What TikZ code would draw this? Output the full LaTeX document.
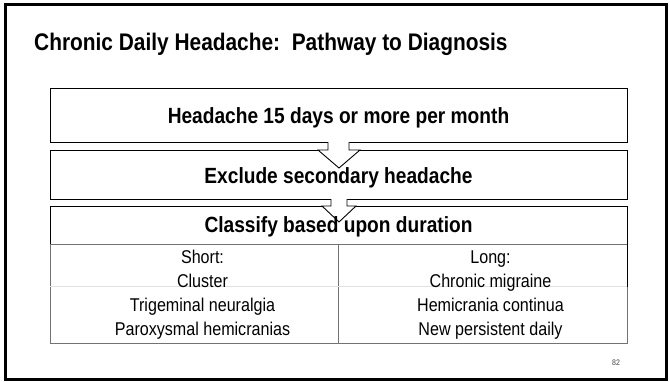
\documentclass[tikz,border=0pt]{standalone}
\usepackage{fontspec}
\setmainfont[FakeStretch=0.87]{Liberation Sans}
\begin{document}
\begin{tikzpicture}[x=1pt,y=-1pt,line join=miter,
  box/.style={draw=black,line width=0.9pt,fill=white,inner sep=0pt,anchor=north west},
  cell/.style={draw=black!55,line width=0.8pt,inner sep=0pt,anchor=north west},
  boxtext/.style={font=\fontsize{22}{26}\selectfont\bfseries,anchor=base,inner sep=0pt},
  celltext/.style={font=\fontsize{18.5}{22}\selectfont,anchor=base,inner sep=0pt},
  arrowline/.style={draw=black,line width=0.9pt},
  arrowfill/.style={fill=white}]
\useasboundingbox (0,0) rectangle (670,381);
\fill[white] (0,0) rectangle (670,381);
\draw[line width=3pt] (5,4) rectangle (666,379);
\node[anchor=base west,inner sep=0pt,font=\fontsize{24}{28}\selectfont\bfseries] (title) at (34,50) {Chronic Daily Headache:\ \ Pathway to Diagnosis};
% boxes
\node[box,minimum width=577pt,minimum height=54pt] (b1) at (50,88) {};
\node[box,minimum width=577pt,minimum height=49pt] (b2) at (50,150) {};
\node[box,minimum width=577pt,minimum height=38pt] (b3) at (50,206) {};
% table
\node[cell,minimum width=288pt,minimum height=99pt] (cl) at (50,244) {};
\node[cell,minimum width=289pt,minimum height=99pt] (cr) at (338,244) {};
\draw[black!12,line width=0.7pt] (cl.west |- 0,286.7) -- (cr.east |- 0,286.7);
\draw[black,line width=0.9pt] (cr.north east) -- ++(0,43);
% arrow 1
\fill[arrowfill] (328,141.2) -- (328,150) -- (318,150) -- (339,168) -- (360,150) -- (349,150) -- (349,141.2) -- cycle;
\draw[arrowline] (328,142) -- (328,150) -- (318,150) -- (339,168) -- (360,150) -- (349,150) -- (349,142);
% arrow 2
\fill[arrowfill] (331,198.2) -- (331,206) -- (322,206) -- (339,222) -- (356,206) -- (347,206) -- (347,198.2) -- cycle;
\draw[arrowline] (331,199) -- (331,206) -- (322,206) -- (339,222) -- (356,206) -- (347,206) -- (347,199);
% texts
\node[boxtext] (t1) at (338.5,123) {Headache 15 days or more per month};
\node[boxtext] (t2) at (338.5,183.5) {Exclude secondary headache};
\node[boxtext] (t3) at (338.5,232) {Classify based upon duration};
\node[celltext] (s0) at (202.5,263) {Short:};
\node[celltext] (s1) at (202.5,287.5) {Cluster};
\node[celltext] (s2) at (202.5,311.5) {Trigeminal neuralgia};
\node[celltext] (s3) at (202.5,335) {Paroxysmal hemicranias};
\node[celltext] (l0) at (490.5,263) {Long:};
\node[celltext] (l1) at (490.5,287.5) {Chronic migraine};
\node[celltext] (l2) at (490.5,311.5) {Hemicrania continua};
\node[celltext] (l3) at (490.5,335) {New persistent daily};
\node[font=\fontsize{8}{9}\selectfont,text=black!75,inner sep=0pt] (pg) at (616,363) {82};
\end{tikzpicture}
\end{document}
